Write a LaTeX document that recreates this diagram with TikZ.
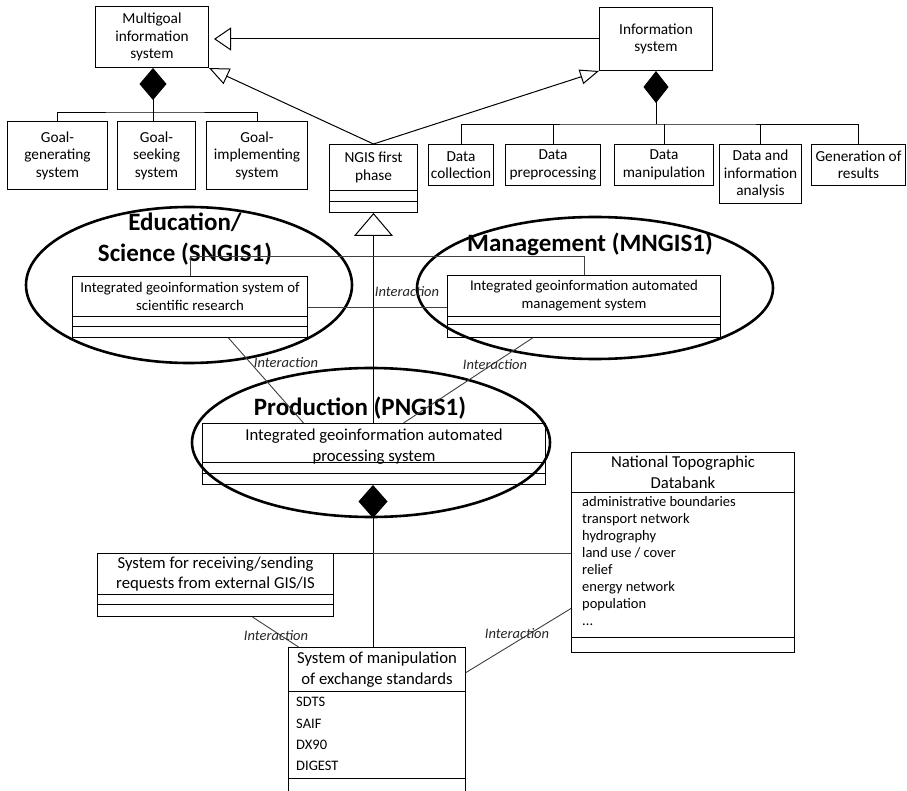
\documentclass[tikz,border=0pt]{standalone}
\usepackage{fontspec}
\setmainfont{Carlito}
\usetikzlibrary{arrows.meta,calc,shapes.geometric}
\newcommand\mytopfont{\fontsize{15.3}{17.5}\selectfont}
\newcommand\mymidfont{\fontsize{14.8}{18}\selectfont}
\newcommand\mylowfont{\fontsize{16.7}{20.5}\selectfont}
\newcommand\myattrfont{\fontsize{14.5}{17}\selectfont}
\begin{document}
\begin{tikzpicture}[x=1pt,y=-1pt,
  every node/.style={inner sep=0pt},
  box/.style={draw, line width=1pt, anchor=north west, align=center, font=\mytopfont},
  midbox/.style={box, font=\mymidfont},
  lowbox/.style={box, font=\mylowfont},
  attr/.style={anchor=west, text height=10pt, text depth=3pt, font=\myattrfont},
  title/.style={font=\fontsize{25}{31}\selectfont\bfseries, align=center},
  zone/.style={draw, ellipse, line width=2.6pt},
  inter/.style={draw=black!75, line width=0.9pt},
  lbl/.style={font=\fontsize{14.5}{17}\selectfont\itshape, text=black!85},
  link/.style={draw, line width=0.9pt},
  gen/.style={draw, line width=1pt}]

\useasboundingbox (0,0) rectangle (907,791);
\fill[white] (0,0) rectangle (907,791);

% top level
\node[box, minimum width=113pt, minimum height=61pt] (multi) at (95,6) {Multigoal\\information\\system};
\node[box, minimum width=113pt, minimum height=63pt] (info) at (599,7) {Information\\system};
\node[box, minimum width=100pt, minimum height=68pt] (gg) at (7,121) {Goal-\\generating\\system};
\node[box, minimum width=78pt, minimum height=68pt] (gs) at (117,121) {Goal-\\seeking\\system};
\node[box, minimum width=101pt, minimum height=68pt] (gi) at (206,121) {Goal-\\implementing\\system};
\node[box, minimum width=88pt, minimum height=46pt] (ngish) at (329,144) {NGIS first\\phase};
\node[box, minimum width=88pt, minimum height=11pt] (ngisc1) at (329,190) {};
\node[box, minimum width=88pt, minimum height=11pt] (ngisc2) at (329,201) {};
\node[box, minimum width=65pt, minimum height=41pt] (dc) at (428,144) {Data\\collection};
\node[box, minimum width=95pt, minimum height=41pt] (dp) at (505,144) {Data\\preprocessing};
\node[box, minimum width=99pt, minimum height=41pt] (dm) at (614,144) {Data\\manipulation};
\node[box, minimum width=82pt, minimum height=59pt] (da) at (719,144) {Data and\\information\\analysis};
\node[box, minimum width=94pt, minimum height=41pt] (gr) at (811,144) {Generation of\\results};

% subsystems
\node[midbox, minimum width=235pt, minimum height=40pt] (scih) at (72,276) {Integrated geoinformation system of\\scientific research};
\node[midbox, minimum width=235pt, minimum height=10pt] (scic1) at (72,316) {};
\node[midbox, minimum width=235pt, minimum height=11pt] (scic2) at (72,326) {};
\node[midbox, minimum width=273pt, minimum height=41pt] (mngh) at (447,275) {Integrated geoinformation automated\\management system};
\node[midbox, minimum width=273pt, minimum height=8pt] (mngc1) at (447,316) {};
\node[midbox, minimum width=273pt, minimum height=13pt] (mngc2) at (447,324) {};
\node[lowbox, minimum width=343pt, minimum height=39pt] (prodh) at (202,423) {};
\node[font=\mylowfont, align=center] (prodt) at ($(prodh.center)+(0,3.5)$) {Integrated geoinformation automated\\processing system};
\node[lowbox, minimum width=343pt, minimum height=11pt] (prodc1) at (202,462) {};
\node[lowbox, minimum width=343pt, minimum height=11pt] (prodc2) at (202,473) {};
\node[lowbox, minimum width=236pt, minimum height=41pt] (recvh) at (97,553) {System for receiving/sending\\requests from external GIS/IS};
\node[lowbox, minimum width=236pt, minimum height=10pt] (recvc1) at (97,594) {};
\node[lowbox, minimum width=236pt, minimum height=12pt] (recvc2) at (97,604) {};
\node[lowbox, minimum width=223pt, minimum height=40pt] (ntdh) at (571,452) {National Topographic\\Databank};
\node[lowbox, minimum width=223pt, minimum height=145pt] (ntda) at (571,492) {};
\node[lowbox, minimum width=223pt, minimum height=15pt] (ntdc) at (571,637) {};
\node[lowbox, minimum width=177pt, minimum height=44pt] (manh) at (288,647) {System of manipulation\\of exchange standards};
\node[lowbox, minimum width=177pt, minimum height=87pt] (mana) at (288,691) {};
\node[lowbox, minimum width=177pt, minimum height=25pt] (manc) at (288,778) {};

% attributes
\node[attr] (n1) at (582,503) {administrative boundaries};
\node[attr] (n2) at (582,520) {transport network};
\node[attr] (n3) at (582,537) {hydrography};
\node[attr] (n4) at (582,554) {land use / cover};
\node[attr] (n5) at (582,571) {relief};
\node[attr] (n6) at (582,588) {energy network};
\node[attr] (n7) at (582,605) {population};
\node[attr] (n8) at (582,622) {...};
\node[attr] (s1) at (296,703) {SDTS};
\node[attr] (s2) at (296,725) {SAIF};
\node[attr] (s3) at (296,746) {DX90};
\node[attr] (s4) at (296,767) {DIGEST};

% zones
\node[zone, minimum width=326pt, minimum height=156pt] (sng) at (189,285) {};
\node[zone, minimum width=356pt, minimum height=142pt] (mng) at (595,288) {};
\node[zone, minimum width=358pt, minimum height=149pt] (png) at (371,442.5) {};
\node[title] (t1) at (185,239) {Education/\\Science (SNGIS1)};
\node[title] (t2) at (590,244) {Management (MNGIS1)};
\node[title] (t3) at (360,408) {Production (PNGIS1)};

% generalization
\draw[gen, -{Triangle[open,length=17pt,width=23pt]}, shorten >=5pt] (info.west) -- (info.west -| multi.east);
\draw[gen, -{Triangle[open,length=20pt,width=17pt]}] (ngish.north) -- (multi.south east);
\draw[gen, -{Triangle[open,length=19pt,width=15pt]}] (ngish.north) -- (info.south west);
\draw[gen, -{Triangle[open,length=23pt,width=39pt]}] (prodh.north -| ngisc2.south) -- (ngisc2.south);

% composition
\coordinate (cm) at (153,112);
\draw[link, -{Diamond[length=32pt,width=27pt]}] (cm) -- (cm |- multi.south);
\draw[link] (gg.north) |- (cm) -| (gi.north);
\draw[link] (cm) -- (cm |- gs.north);
\coordinate (ci) at (656,124);
\draw[link, -{Diamond[length=32pt,width=25pt]}] (ci) -- (ci |- info.south);
\draw[link] (dc.north) |- (ci) -| (gr.north);
\draw[link] (dp.north) -- (dp.north |- ci);
\draw[link] (dm.north) -- (dm.north |- ci);
\draw[link] (da.north) -- (da.north |- ci);
\coordinate (cp) at (373,553);
\draw[link, -{Diamond[length=33pt,width=29pt]}] (cp |- manh.north) -- (cp |- prodc2.south);
\draw[link] (cp) -- (recvh.north east);
\draw[link, draw=black!75] (cp) -- (cp -| ntdh.west);

% interactions
\draw[inter] ([yshift=-11pt]scih.east) -- ([yshift=-11pt]scih.east -| mngh.west);
\draw[inter] (scih.north) -- ++(0,-20) -| (mngh.north);
\draw[inter] ([xshift=38.5pt]scic2.south) -- ([xshift=-70.5pt]prodh.north);
\draw[inter] ([xshift=-51.5pt]mngc2.south) -- ([xshift=29.5pt]prodh.north);
\draw[inter] ([xshift=37pt]recvc2.south) -- ([xshift=-78.5pt]manh.north);
\draw[inter] ([yshift=-43.5pt]ntda.west) -- ([yshift=-3pt]manh.east);

\node[lbl] (l1) at (407,292) {Interaction};
\node[lbl] (l2) at (286,363) {Interaction};
\node[lbl] (l3) at (495,365) {Interaction};
\node[lbl] (l4) at (276,636) {Interaction};
\node[lbl] (l5) at (517,634) {Interaction};
\end{tikzpicture}
\end{document}
